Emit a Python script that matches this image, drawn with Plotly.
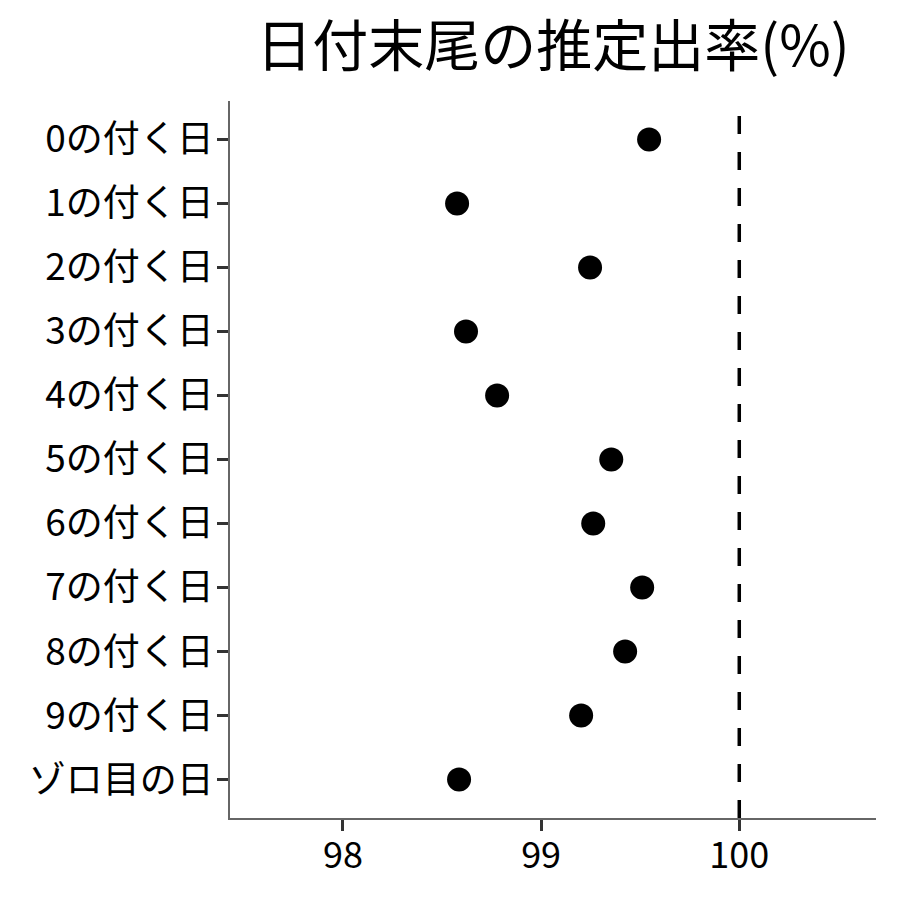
import plotly.graph_objects as go

categories = ["0の付く日", "1の付く日", "2の付く日", "3の付く日", "4の付く日",
              "5の付く日", "6の付く日", "7の付く日", "8の付く日", "9の付く日", "ゾロ目の日"]
values = [99.545, 98.576, 99.247, 98.621, 98.778, 99.354, 99.263, 99.510, 99.424, 99.202, 98.586]
ref_value = 100
x_ticks = [98, 99, 100]

font_family = "Noto Sans CJK JP"

fig = go.Figure()
fig.add_trace(go.Scatter(
    x=values, y=categories, mode="markers",
    marker=dict(color="black", size=24),
    showlegend=False, cliponaxis=False,
))
fig.add_shape(type="line", x0=ref_value, x1=ref_value, y0=0, y1=1, yref="paper",
              line=dict(color="black", width=3.5, dash="18px,18px"))

fig.update_layout(
    width=900, height=900,
    margin=dict(l=222, r=32, t=93, b=90, autoexpand=False),
    paper_bgcolor="white", plot_bgcolor="white",
    font=dict(family=font_family, color="black", size=36),
    title=dict(text="日付末尾の推定出率(%)", x=545/900, xanchor="center",
               y=1 - 38/900, yanchor="middle", font=dict(size=56, family=font_family)),
)
fig.update_xaxes(
    range=[97.43, 100.69], tickvals=x_ticks, ticktext=[str(v) for v in x_ticks],
    showgrid=False, zeroline=False, showline=True, linecolor="#666666", linewidth=1.5,
    ticks="outside", ticklen=11, tickwidth=3, tickcolor="#333333",
    tickfont=dict(size=36, color="black"), ticklabelstandoff=-6, automargin=False,
)
fig.update_yaxes(
    categoryorder="array", categoryarray=categories[::-1],
    range=[-0.6, len(categories) - 0.4],
    showgrid=False, zeroline=False, showline=True, linecolor="#666666", linewidth=1.5,
    ticks="outside", ticklen=11, tickwidth=3, tickcolor="#333333",
    tickfont=dict(size=37, color="black"), ticklabelstandoff=-4, automargin=False,
)

fig.write_html("out.html")
